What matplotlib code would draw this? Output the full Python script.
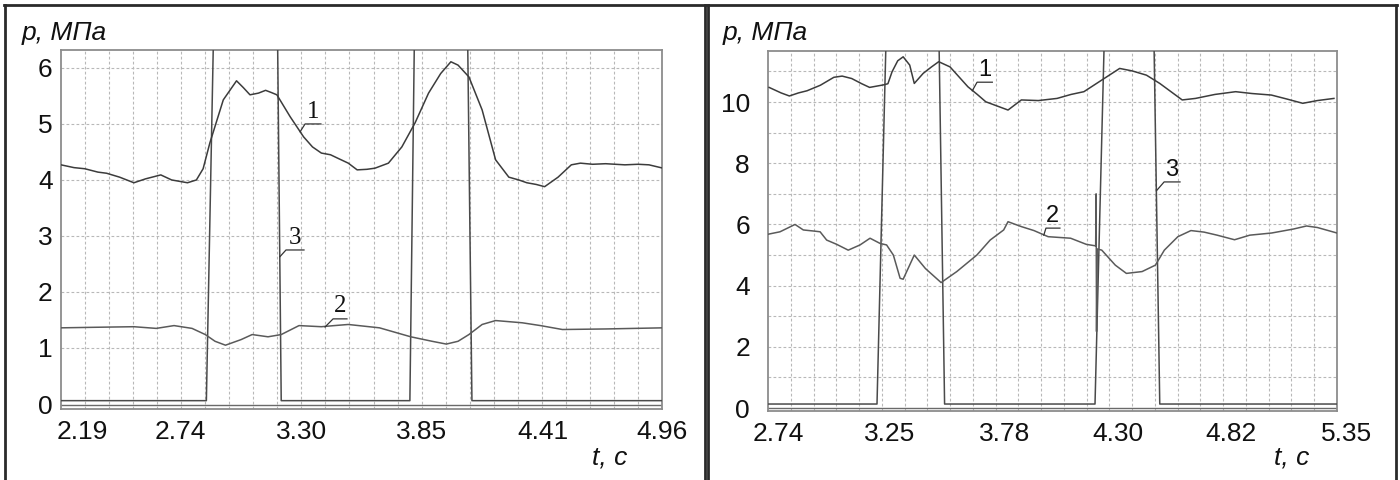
import numpy as np
import matplotlib
matplotlib.use("Agg")
import matplotlib.pyplot as plt
from matplotlib.lines import Line2D
from matplotlib.transforms import ScaledTranslation

# ---------------- data: left panel ----------------
L_t1 = [2.19, 2.25, 2.30, 2.36, 2.40, 2.46, 2.526, 2.58, 2.65, 2.70, 2.773, 2.814, 2.845, 2.876, 2.938,
        2.999, 3.03, 3.061, 3.10, 3.133, 3.16, 3.185, 3.246, 3.308, 3.349, 3.39, 3.432, 3.47, 3.514,
        3.555, 3.60, 3.637, 3.699, 3.761, 3.822, 3.884, 3.94, 3.987, 4.02, 4.070, 4.131, 4.193, 4.254,
        4.30, 4.337, 4.38, 4.419, 4.481, 4.542, 4.584, 4.64, 4.70, 4.789, 4.85, 4.90, 4.965]
L_p1 = [4.27, 4.22, 4.20, 4.14, 4.12, 4.05, 3.95, 4.02, 4.09, 4.00, 3.95, 4.00, 4.20, 4.66, 5.43,
        5.77, 5.65, 5.52, 5.55, 5.60, 5.56, 5.52, 5.13, 4.77, 4.59, 4.48, 4.45, 4.38, 4.30,
        4.18, 4.19, 4.21, 4.30, 4.59, 5.02, 5.55, 5.90, 6.11, 6.05, 5.84, 5.25, 4.36, 4.05,
        4.00, 3.95, 3.92, 3.88, 4.05, 4.27, 4.30, 4.28, 4.29, 4.27, 4.28, 4.27, 4.21]

L_t2 = [2.19, 2.35, 2.526, 2.629, 2.711, 2.794, 2.855, 2.90, 2.948, 3.020, 3.071, 3.144, 3.205, 3.287,
        3.390, 3.45, 3.514, 3.658, 3.73, 3.802, 3.90, 3.966, 4.02, 4.070, 4.131, 4.193, 4.316, 4.40,
        4.501, 4.70, 4.965]
L_p2 = [1.36, 1.37, 1.38, 1.35, 1.40, 1.35, 1.24, 1.12, 1.05, 1.15, 1.24, 1.20, 1.24, 1.40,
        1.38, 1.40, 1.42, 1.36, 1.28, 1.20, 1.12, 1.07, 1.12, 1.24, 1.42, 1.49, 1.45, 1.40,
        1.33, 1.34, 1.36]

L_t3 = [2.19, 2.860, 2.893, 3.188, 3.205, 3.798, 3.819, 4.064, 4.084, 4.96]
L_p3 = [0.06, 0.06, 6.60, 6.60, 0.06, 0.06, 6.60, 6.60, 0.06, 0.06]

L_t0 = [2.19, 4.96]
L_p0 = [-0.02, -0.02]

L_xticks = ["2.19", "2.74", "3.30", "3.85", "4.41", "4.96"]
L_yticks = [0, 1, 2, 3, 4, 5, 6]

# ---------------- data: right panel ----------------
R_t1 = [2.745, 2.80, 2.838, 2.88, 2.919, 2.98, 3.042, 3.08, 3.124, 3.17, 3.206, 3.268, 3.290, 3.309,
        3.335, 3.360, 3.390, 3.411, 3.452, 3.49, 3.523, 3.575, 3.657, 3.70, 3.739, 3.841, 3.902,
        3.98, 4.066, 4.13, 4.189, 4.271, 4.353, 4.41, 4.476, 4.537, 4.640, 4.701, 4.79, 4.885,
        4.96, 5.049, 5.12, 5.193, 5.26, 5.336]
R_p1 = [10.48, 10.30, 10.20, 10.30, 10.37, 10.55, 10.81, 10.85, 10.77, 10.60, 10.48, 10.56, 10.60,
        10.99, 11.35, 11.48, 11.21, 10.61, 10.94, 11.15, 11.32, 11.15, 10.50, 10.25, 10.01, 9.74,
        10.07, 10.05, 10.12, 10.25, 10.34, 10.72, 11.10, 11.02, 10.88, 10.61, 10.07, 10.12, 10.25,
        10.34, 10.28, 10.23, 10.10, 9.96, 10.05, 10.12]

R_t2 = [2.740, 2.795, 2.864, 2.902, 2.956, 2.979, 3.009, 3.055, 3.108, 3.162, 3.208, 3.254, 3.284,
        3.315, 3.346, 3.360, 3.411, 3.462, 3.534, 3.606, 3.698, 3.759, 3.821, 3.841, 3.902, 3.96,
        4.025, 4.128, 4.20, 4.243, 4.245, 4.247, 4.25, 4.271, 4.333, 4.384, 4.456, 4.517, 4.558,
        4.62, 4.68, 4.74, 4.80, 4.88, 4.95, 5.05, 5.15, 5.21, 5.26, 5.30, 5.35]
R_p2 = [5.68, 5.76, 6.00, 5.82, 5.78, 5.76, 5.49, 5.35, 5.16, 5.33, 5.55, 5.38, 5.33,
        5.00, 4.24, 4.21, 5.00, 4.56, 4.10, 4.46, 5.00, 5.49, 5.82, 6.09, 5.93, 5.80,
        5.60, 5.55, 5.35, 5.30, 7.00, 2.50, 5.20, 5.16, 4.67, 4.40, 4.46, 4.67, 5.16,
        5.60, 5.80, 5.75, 5.65, 5.50, 5.65, 5.72, 5.85, 5.95, 5.90, 5.82, 5.72]

R_t3 = [2.74, 3.240, 3.282, 3.524, 3.550, 4.240, 4.283, 4.510, 4.537, 5.35]
R_p3 = [0.13, 0.13, 12.2, 12.2, 0.13, 0.13, 12.2, 12.2, 0.13, 0.13]

R_t0 = [2.74, 5.35]
R_p0 = [0.0, 0.0]

R_xticks = ["2.74", "3.25", "3.78", "4.30", "4.82", "5.35"]
R_yticks = [0, 2, 4, 6, 8, 10]

# labels with leader lines: (text, leader start, elbow, underline end)
L_notes = [("1", (3.292, 4.86), (3.315, 5.00), (3.388, 5.00)),
           ("3", (3.199, 2.63), (3.227, 2.75), (3.310, 2.75)),
           ("2", (3.407, 1.375), (3.444, 1.52), (3.508, 1.52))]
R_notes = [("1", (3.677, 10.37), (3.699, 10.65), (3.769, 10.65)),
           ("3", (4.524, 7.12), (4.557, 7.39), (4.630, 7.39)),
           ("2", (4.005, 5.65), (4.015, 5.88), (4.079, 5.88))]

# ---------------- drawing ----------------
W, H = 1400, 480
fig = plt.figure(figsize=(W / 100, H / 100), dpi=100)
fig.patch.set_facecolor("white")

SANS = ["Liberation Sans", "DejaVu Sans"]
SERIF = ["Liberation Serif", "DejaVu Serif"]
GRID_C = "#b8b8b8"
SPINE_C = "#8c8c8c"


def px_axes(l, r, t, b):
    return fig.add_axes([l / W, 1 - b / H, (r - l) / W, (b - t) / H])


def setup(ax, xlim, ylim, xticks, yticks, ygrid, dx_px, first_left, ypad):
    ax.set_xlim(*xlim)
    ax.set_ylim(*ylim)
    for s in ax.spines.values():
        s.set_color(SPINE_C)
        s.set_linewidth(1.3)
    for gx in np.linspace(xlim[0], xlim[1], 26)[1:-1]:
        ax.axvline(gx, color=GRID_C, lw=0.8, ls=(0, (2.5, 2)), zorder=0)
    for gy in ygrid:
        ax.axhline(gy, color=GRID_C, lw=0.8, ls=(0, (2.5, 2)), zorder=0)
    ax.set_xticks([float(s) for s in xticks])
    ax.set_xticklabels(xticks, fontsize=19, family=SANS)
    ax.set_yticks(yticks)
    ax.set_yticklabels([str(v) for v in yticks], fontsize=19, family=SANS)
    ax.tick_params(axis="both", length=0, colors="#111111")
    ax.tick_params(axis="x", pad=8)
    ax.tick_params(axis="y", pad=ypad)
    for i, lab in enumerate(ax.get_xticklabels()):
        off = dx_px
        if i == 0 and first_left:
            lab.set_ha("left")
            off = -4
        lab.set_transform(lab.get_transform() + ScaledTranslation(off / 100, 0, fig.dpi_scale_trans))


def notes(ax, items, fam, size, color):
    for txt, p0, p1, p2 in items:
        ax.plot([p0[0], p1[0], p2[0]], [p0[1], p1[1], p2[1]], color=color, lw=0.9, zorder=4)
        ax.annotate(txt, xy=((p1[0] + p2[0]) / 2, p2[1]), xytext=(0, 1), textcoords="offset points",
                    ha="center", va="bottom", fontsize=size, family=fam, color="#111111", zorder=5)


# left panel
axL = px_axes(61, 662, 50, 409)
setup(axL, (2.19, 4.96), (-0.089, 6.32), L_xticks, L_yticks, [1, 2, 3, 4, 5, 6], 0, True, 6)
axL.plot(L_t0, L_p0, color="#6a6a6a", lw=1.0, zorder=2)
axL.plot(L_t3, L_p3, color="#4a4a4a", lw=1.1, zorder=3)
axL.plot(L_t2, L_p2, color="#5a5a5a", lw=1.1, zorder=3)
axL.plot(L_t1, L_p1, color="#3c3c3c", lw=1.1, zorder=3)
notes(axL, L_notes, SERIF, 18, "#333333")
axL.text(-0.065, 1.047, "p, МПа", transform=axL.transAxes, ha="left", va="center",
         fontsize=19, style="italic", family=SANS, color="#111111")
axL.text(0.913, -0.136, "t, c", transform=axL.transAxes, ha="center", va="center",
         fontsize=19, style="italic", family=SANS, color="#111111")

# right panel
axR = px_axes(768, 1337, 51, 411)
setup(axR, (2.74, 5.35), (-0.098, 11.67), R_xticks, R_yticks, list(range(1, 12)), 10, False, 13)
axR.plot(R_t0, R_p0, color="#6a6a6a", lw=1.0, zorder=2)
axR.plot(R_t3, R_p3, color="#4a4a4a", lw=1.1, zorder=3)
axR.plot(R_t2, R_p2, color="#5a5a5a", lw=1.1, zorder=3)
axR.plot(R_t1, R_p1, color="#3c3c3c", lw=1.1, zorder=3)
notes(axR, R_notes, SANS, 17, "#333333")
axR.text(-0.079, 1.05, "p, МПа", transform=axR.transAxes, ha="left", va="center",
         fontsize=19, style="italic", family=SANS, color="#111111")
axR.text(0.921, -0.128, "t, c", transform=axR.transAxes, ha="center", va="center",
         fontsize=19, style="italic", family=SANS, color="#111111")

# panel frames
def fline(x0, y0, x1, y1):
    fig.add_artist(Line2D([x0 / W, x1 / W], [1 - y0 / H, 1 - y1 / H], color="#2a2a2a", lw=2.0))

fline(4, 5, 1397, 5)
for xv in (5, 705, 708, 1396):
    fline(xv, 5, xv, 481)

fig.savefig("out.png", dpi=100, facecolor="white")
